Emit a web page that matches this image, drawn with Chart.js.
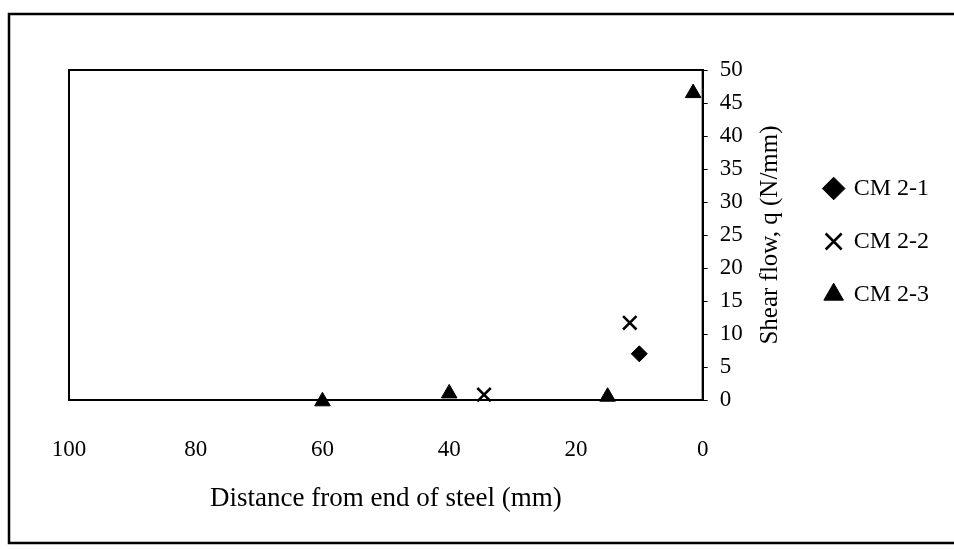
<!DOCTYPE html>
<html>
<head>
<meta charset="utf-8">
<script src="https://cdn.jsdelivr.net/npm/chart.js@4"></script>
<style>
  html, body { margin: 0; padding: 0; background: #fff; }
  #wrap { width: 954px; height: 549px; }
</style>
</head>
<body>
<div id="wrap"><canvas id="shearChart" width="954" height="549"></canvas></div>
<script>
// values
const cm21X = [10];
const cm21Y = [7];
const cm22X = [34.5, 11.5];
const cm22Y = [0.8, 11.7];
const cm23X = [60, 40, 15, 1.5];
const cm23Y = [-0.2, 1, 0.5, 46.5];

const xTicks = [0, 20, 40, 60, 80, 100];
const yTicks = [0, 5, 10, 15, 20, 25, 30, 35, 40, 45, 50];

const xTitle = "Distance from end of steel (mm)";
const yTitle = "Shear flow, q (N/mm)";
const serif = "'Liberation Serif', 'Times New Roman', serif";

const toPts = (xs, ys) => xs.map((x, i) => ({ x: x, y: ys[i] }));

// outer frame, plot box and the rotated y title
const framePlugin = {
	id: "frame",
	afterLayout(chart) {
		// legend sits a bit above the middle in the original
		chart.legend.top -= 51;
		chart.legend.bottom -= 51;
	},
	beforeDraw(chart) {
		const c = chart.ctx;
		c.save();
		c.fillStyle = "#fff";
		c.fillRect(0, 0, chart.width, chart.height);
		c.strokeStyle = "#000";
		c.lineWidth = 2.5;
		c.beginPath();
		c.moveTo(chart.width + 5, 14);
		c.lineTo(9, 14);
		c.lineTo(9, 543);
		c.lineTo(chart.width + 5, 543);
		c.stroke();
		c.restore();
	},
	afterDraw(chart) {
		const a = chart.chartArea;
		const c = chart.ctx;
		c.save();
		c.strokeStyle = "#000";
		c.lineWidth = 2;
		c.strokeRect(a.left, a.top, a.right - a.left, a.bottom - a.top);
		c.translate(770, (a.top + a.bottom) / 2);
		c.rotate(-Math.PI / 2);
		c.fillStyle = "#000";
		c.font = "25px " + serif;
		c.textAlign = "center";
		c.textBaseline = "middle";
		c.fillText(yTitle, 0, 0);
		c.restore();
	},
};

const ctx = document.getElementById("shearChart").getContext("2d");

const config = {
	type: "scatter",
	data: {
		datasets: [
			{
				label: "CM 2-1",
				data: toPts(cm21X, cm21Y),
				pointStyle: "rectRot",
				pointRadius: 8,
				backgroundColor: "#000",
				borderColor: "#000",
				clip: false,
			},
			{
				label: "CM 2-2",
				data: toPts(cm22X, cm22Y),
				pointStyle: "crossRot",
				pointRadius: 9.5,
				borderWidth: 2.5,
				backgroundColor: "#000",
				borderColor: "#000",
				clip: false,
			},
			{
				label: "CM 2-3",
				data: toPts(cm23X, cm23Y),
				pointStyle: "triangle",
				pointRadius: 9,
				backgroundColor: "#000",
				borderColor: "#000",
				clip: false,
			},
		],
	},
	options: {
		responsive: false,
		animation: false,
		layout: { padding: { top: 70, left: 69, right: 15, bottom: 34 } },
		plugins: {
			tooltip: { enabled: false },
			legend: {
				position: "right",
				labels: {
					usePointStyle: true,
					color: "#000",
					font: { family: serif, size: 24 },
					padding: 29,
					boxWidth: 16,
					boxHeight: 16,
				},
			},
		},
		scales: {
			x: {
				type: "linear",
				reverse: true,
				min: 0,
				max: 100,
				afterBuildTicks: (s) => { s.ticks = xTicks.map((v) => ({ value: v })); },
				afterFit: (s) => { s.height = 115; },
				border: { display: false },
				grid: { display: false },
				ticks: {
					color: "#000",
					font: { family: serif, size: 23 },
					padding: 28,
					maxRotation: 0,
				},
				title: {
					display: true,
					text: xTitle,
					color: "#000",
					font: { family: serif, size: 27 },
					padding: { top: 10, bottom: 0 },
				},
			},
			y: {
				type: "linear",
				position: "right",
				min: 0,
				max: 50,
				afterBuildTicks: (s) => { s.ticks = yTicks.map((v) => ({ value: v })); },
				afterFit: (s) => { s.width = 94; },
				border: { display: true, color: "#000", width: 2 },
				grid: { display: true, drawOnChartArea: false, color: "#000", tickLength: 5 },
				ticks: {
					color: "#000",
					font: { family: serif, size: 23 },
					padding: 12,
				},
			},
		},
	},
	plugins: [framePlugin],
};

const shearChart = new Chart(ctx, config);
</script>
</body>
</html>
